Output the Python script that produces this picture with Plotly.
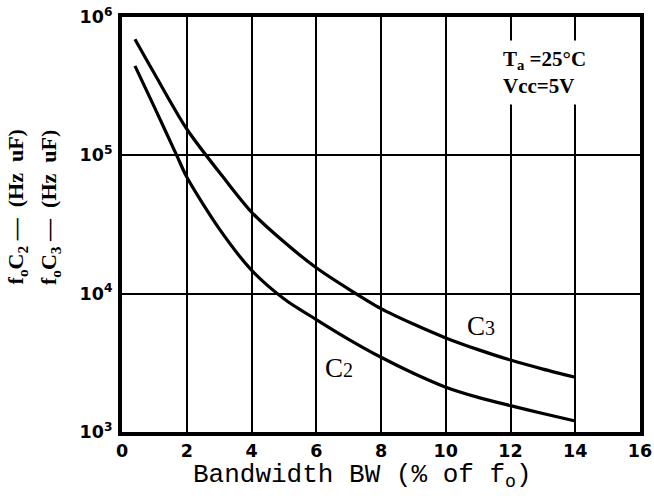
import plotly.graph_objects as go

# Data
bw_c3 = [0.4, 1, 2, 3.2, 4, 5, 6, 7, 8, 9, 10, 11, 12, 13, 14]
fc3 = [6.9e5, 3.9e5, 1.55e5, 6.6e4, 3.89e4, 2.37e4, 1.54e4, 1.08e4, 7.8e3, 6.03e3, 4.79e3, 3.94e3, 3.31e3, 2.85e3, 2.49e3]
bw_c2 = [0.4, 1, 1.69, 2, 3, 4, 5, 6, 7, 8, 9, 10, 11, 12, 13, 14]
fc2 = [4.43e5, 2.23e5, 1.0e5, 6.97e4, 2.95e4, 1.48e4, 9.2e3, 6.5e3, 4.68e3, 3.47e3, 2.66e3, 2.11e3, 1.78e3, 1.55e3, 1.36e3, 1.2e3]

x_ticks = [0, 2, 4, 6, 8, 10, 12, 14, 16]
y_tickvals = [1e3, 1e4, 1e5, 1e6]
y_ticktext = ["10<sup>3</sup>", "10<sup>4</sup>", "10<sup>5</sup>", "10<sup>6</sup>"]

fig = go.Figure()
line_style = dict(color="black", width=3.2, shape="spline", smoothing=0.8)
fig.add_trace(go.Scatter(x=bw_c3, y=fc3, mode="lines", line=line_style, showlegend=False))
fig.add_trace(go.Scatter(x=bw_c2, y=fc2, mode="lines", line=line_style, showlegend=False))

tickfont = dict(family="DejaVu Sans", size=17.5, color="black")
fig.update_layout(
    width=654, height=496,
    margin=dict(l=122, r=14, t=17, b=64),
    plot_bgcolor="white", paper_bgcolor="white",
    xaxis=dict(range=[0, 16], tickvals=x_ticks, ticktext=[f"<b>{v}</b>" for v in x_ticks],
               showgrid=True, gridcolor="black", gridwidth=1.5,
               showline=True, linecolor="black", linewidth=4, mirror=True,
               ticks="", tickfont=tickfont, zeroline=False, automargin=False,
               ticklabeloverflow="allow"),
    yaxis=dict(type="log", range=[3, 6], tickvals=y_tickvals, ticktext=[f"<b>{t}</b>" for t in y_ticktext],
               showgrid=True, gridcolor="black", gridwidth=1.5,
               showline=True, linecolor="black", linewidth=4, mirror=True,
               ticks="", tickfont=tickfont, zeroline=False, automargin=False, ticklabelstandoff=2,
               ticklabeloverflow="allow"),
)

fig.add_annotation(xref="paper", yref="paper", x=0.465, y=-0.106, xanchor="center", yanchor="middle",
                   text="Bandwidth BW (% of f<sub>o</sub>)", showarrow=False,
                   font=dict(family="Liberation Mono", size=26, color="black"))

ytitle_font = dict(family="Liberation Serif", size=22, color="black")
fig.add_annotation(xref="paper", yref="paper", x=-0.202, y=0.542, xanchor="center", yanchor="middle",
                   text="<b>f<sub>o</sub>C<sub>2</sub> —  (Hz  uF)</b>", textangle=-90, showarrow=False, font=ytitle_font)
fig.add_annotation(xref="paper", yref="paper", x=-0.139, y=0.542, xanchor="center", yanchor="middle",
                   text="<b>f<sub>o</sub>C<sub>3</sub> —  (Hz  uF)</b>", textangle=-90, showarrow=False, font=ytitle_font)

fig.add_annotation(x=13.05, y=5.60, xref="x", yref="y", text="<b>T<sub>a</sub> =25°C<br>Vcc=5V</b>", showarrow=False,
                   font=dict(family="Liberation Serif", size=21, color="black"), bgcolor="white", borderpad=6,
                   align="left")
fig.add_annotation(x=11.09, y=3.764, xref="x", yref="y", text="C<span style='font-size:20px'>3</span>", showarrow=False,
                   font=dict(family="Liberation Serif", size=27, color="black"))
fig.add_annotation(x=6.69, y=3.46, xref="x", yref="y", text="C<span style='font-size:20px'>2</span>", showarrow=False,
                   font=dict(family="Liberation Serif", size=27, color="black"))

fig.write_html("out.html", config={"displayModeBar": False},
               post_script="document.body.style.margin='0';document.body.style.overflow='hidden';")
